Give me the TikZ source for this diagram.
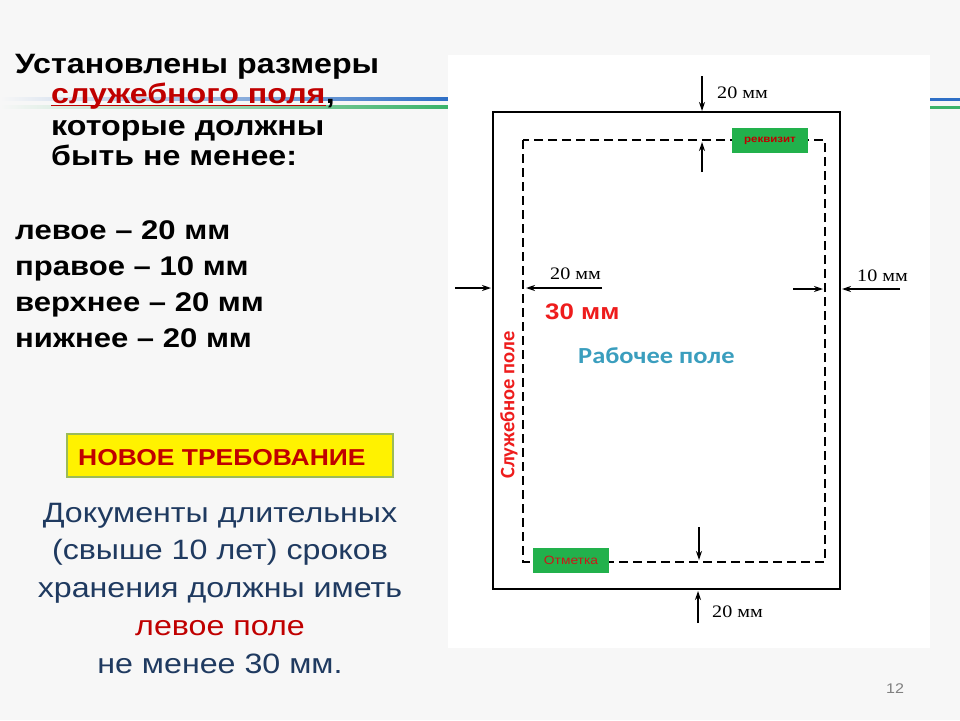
\documentclass[tikz,border=0pt]{standalone}
\usepackage{fontspec}
\setmainfont[FakeStretch=1.15]{Liberation Sans}
\newfontfamily\serifmm[FakeStretch=1.15]{Liberation Serif}
\newfontfamily\calib[FakeStretch=1.15]{Carlito}
\newfontfamily\calibup{Carlito}
\usetikzlibrary{arrows.meta, positioning}
\definecolor{bgslide}{HTML}{F7F7F7}
\definecolor{darkred}{HTML}{C00000}
\definecolor{brightred}{HTML}{EE1C1C}
\definecolor{navytext}{HTML}{1F3A60}
\definecolor{lineblue}{HTML}{2E6FC6}
\definecolor{linegreen}{HTML}{3BB36A}
\definecolor{stampgreen}{HTML}{22B14C}
\definecolor{tealtext}{HTML}{3A9EBE}
\definecolor{olivebox}{HTML}{9BBB59}

\begin{document}
\begin{tikzpicture}[x=1pt, y=-1pt,
    every node/.style={inner sep=0pt, anchor=base west},
    headtxt/.style={font=\fontsize{28}{30}\selectfont\bfseries},
    margintxt/.style={font=\fontsize{27}{28}\selectfont\bfseries},
    bodytxt/.style={anchor=base, text=navytext, font=\fontsize{28}{30}\selectfont},
    mmtxt/.style={font=\serifmm\fontsize{17.5}{18}\selectfont},
    dimarrow/.style={-{Stealth[length=9pt, width=6pt]}, line width=1.4pt},
    stamp/.style={fill=stampgreen, anchor=center, minimum width=76pt, minimum height=25pt}]
    % slide background and decorative lines
    \fill[bgslide] (0,0) rectangle (960,720);
    \shade[left color=bgslide, right color=lineblue] (0,97.5) rectangle (448,100.5);
    \shade[left color=bgslide, right color=linegreen] (0,105.5) rectangle (448,108.5);
    \fill[lineblue] (930,97.5) rectangle (960,100.5);
    \fill[linegreen] (930,105.5) rectangle (960,108.5);
    \fill[white] (448,55) rectangle (930,648);

    % left column
    \node[headtxt] (title) at (15,73) {Установлены размеры};
    \node[headtxt, text=darkred] (sluzh) at (51,103) {служебного поля};
    \node[headtxt] (comma) at (sluzh.base east) {,};
    \draw[darkred, line width=1.5pt] ([yshift=-2.5pt]sluzh.base west) -- ([yshift=-2.5pt]sluzh.base east);
    \node[headtxt] (kotorye) at (51,135) {которые должны};
    \node[headtxt] (byt) at (51,165) {быть не менее:};
    \node[margintxt] (left) at (15,239) {левое – 20 мм};
    \node[margintxt] (right) at (15,275) {правое – 10 мм};
    \node[margintxt] (top) at (15,311) {верхнее – 20 мм};
    \node[margintxt] (bottom) at (15,347) {нижнее – 20 мм};

    \node[draw=olivebox, line width=2pt, fill=yellow, anchor=center, minimum width=326pt, minimum height=43pt] (newreq) at (230,455.5) {};
    \node[text=darkred, font=\fontsize{23}{25}\selectfont\bfseries] (newreqtxt) at (78,465) {НОВОЕ ТРЕБОВАНИЕ};

    \node[bodytxt] (doc1) at (220,522) {Документы длительных};
    \node[bodytxt] (doc2) at (220,559.5) {(свыше 10 лет) сроков};
    \node[bodytxt] (doc3) at (220,597) {хранения должны иметь};
    \node[bodytxt, text=darkred] (doc4) at (220,635) {левое поле};
    \node[bodytxt] (doc5) at (220,673) {не менее 30 мм.};

    % page with margins
    \draw[line width=2.6pt] (493,112) rectangle (840,589);
    \draw[line width=1.9pt, dash pattern=on 9pt off 5pt] (523,140) rectangle (825,562);

    \node[stamp] (rekv) at (770,140.5) {\fontsize{10}{11}\selectfont\bfseries\textcolor{darkred}{реквизит}};
    \node[stamp] (otm) at (571,560.5) {\fontsize{12}{13}\selectfont\textcolor{brightred!85!black}{Отметка}};

    \coordinate (t1) at (702,76);
    \coordinate (t2) at (702,111);
    \coordinate (t3) at (702,172);
    \coordinate (t4) at (702,142);
    \draw[dimarrow] (t1) -- (t2);
    \draw[dimarrow] (t3) -- (t4);
    \node[mmtxt] (mmtop) at (717,98) {20 мм};

    \coordinate (l1) at (455,288);
    \coordinate (l2) at (491,288);
    \coordinate (l3) at (602,288);
    \coordinate (l4) at (526,288);
    \draw[dimarrow] (l1) -- (l2);
    \draw[dimarrow] (l3) -- (l4);
    \node[mmtxt] (mmleft) at (550,279) {20 мм};

    \coordinate (r1) at (793,289);
    \coordinate (r2) at (823,289);
    \coordinate (r3) at (900,289);
    \coordinate (r4) at (842,289);
    \draw[dimarrow] (r1) -- (r2);
    \draw[dimarrow] (r3) -- (r4);
    \node[mmtxt] (mmright) at (857,281) {10 мм};

    \coordinate (b1) at (699,527);
    \coordinate (b2) at (699,560);
    \coordinate (b3) at (698,623);
    \coordinate (b4) at (698,591);
    \draw[dimarrow] (b1) -- (b2);
    \draw[dimarrow] (b3) -- (b4);
    \node[mmtxt] (mmbottom) at (712,617) {20 мм};

    \node[text=brightred, font=\fontsize{22.5}{24}\selectfont\bfseries] (thirty) at (545,319) {30 мм};
    \node[text=tealtext, font=\calib\fontsize{23}{25}\selectfont\bfseries] (work) at (578,363) {Рабочее поле};
    \node[text=brightred, font=\calibup\fontsize{20.5}{21}\selectfont\bfseries, anchor=center, rotate=90] (service) at (509,405) {Служебное поле};

    \node[text=gray, font=\fontsize{14}{15}\selectfont] (pagenum) at (886,693) {12};
\end{tikzpicture}
\end{document}
